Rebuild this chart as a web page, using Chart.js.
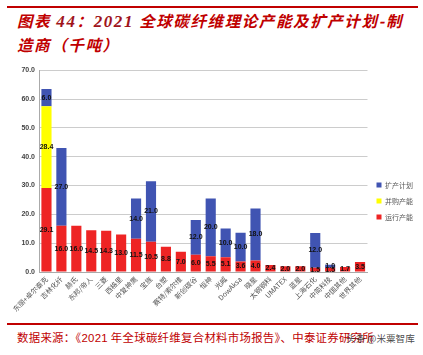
<!DOCTYPE html>
<html><head><meta charset="utf-8">
<script src="https://cdn.jsdelivr.net/npm/chart.js@4.4.0/dist/chart.umd.min.js"></script>
<style>
html,body{margin:0;padding:0;background:#fff;width:423px;height:355px;overflow:hidden;position:relative;font-family:"Noto Sans CJK SC",sans-serif;}
#topline{position:absolute;left:7px;top:6px;width:411px;height:2px;background:#c00000;}
#title{position:absolute;left:17px;top:9px;width:410px;font-size:15.5px;line-height:23px;font-weight:bold;font-style:italic;color:#c00000;letter-spacing:1.6px;white-space:nowrap;}
#title .n{font-family:"Liberation Serif",serif;color:#a0141c;font-size:17px;}
#botline{position:absolute;left:7px;top:323px;width:411px;height:2px;background:#c00000;}
#foot{position:absolute;left:17px;top:329px;font-size:11.4px;color:#c00000;white-space:nowrap;letter-spacing:0.3px;}
#foot .n{font-family:"Liberation Sans",sans-serif;}
#wm{position:absolute;left:346px;top:331px;font-size:9.6px;color:rgba(40,40,40,0.85);white-space:nowrap;}
#wrap{position:absolute;left:0;top:62px;width:423px;height:258px;}
</style></head><body>
<div id="topline"></div>
<div id="title">图表 <span class="n">44</span>：<span class="n">2021</span> 全球碳纤维理论产能及扩产计划-制<br>造商（千吨）</div>
<div id="wrap"><canvas id="c" width="423" height="258"></canvas></div>
<div id="botline"></div>
<div id="foot">数据来源：《<span class="n">2021</span> 年全球碳纤维复合材料市场报告》、中泰证券研究所</div>
<div id="wm">头条 @米粟智库</div>
<script>
const categories = ["东丽+卓尔泰克","吉林化纤","赫氏","东邦/帝人","三菱","西格里","中复神鹰","宝旌","台塑","赛特/索尔维","新创碳谷","恒神","光威","DowAksa","晓星","太钢钢科","UMATEX","蓝星","上海石化","中简科技","中国其他","世界其他"];
const running = [29.1,16.0,16.0,14.5,14.3,13.0,11.5,10.5,8.8,7.0,6.0,5.5,5.1,3.6,4.0,2.4,2.0,2.0,1.5,1.5,1.7,3.5];
const acquired = [28.4,0,0,0,0,0,0,0,0,0,0,0,0,0,0,0,0,0,0,0,0,0];
const expansion = [6.0,27.0,0,0,0,0,14.0,21.0,0,0,12.0,20.0,10.0,10.0,18.0,0,0,0,12.0,1.0,0,0];
const yTicks = [0,10,20,30,40,50,60,70];

const labelPlugin = {
  id:'segLabels',
  afterLayout(chart){
    if(chart.legend){ chart.legend.top += 6; chart.legend.bottom += 6; }
  },
  afterDatasetsDraw(chart){
    const ctx = chart.ctx;
    ctx.save();
    ctx.font = 'bold 7px "Liberation Sans", Arial, sans-serif';
    ctx.fillStyle = '#111';
    ctx.textAlign = 'center';
    ctx.textBaseline = 'middle';
    chart.data.datasets.forEach((ds,i)=>{
      const meta = chart.getDatasetMeta(i);
      meta.data.forEach((bar,j)=>{
        const v = ds.data[j];
        if(!v) return;
        const y = (bar.y + bar.base)/2;
        ctx.fillText(v.toFixed(1), bar.x, y);
      });
    });
    ctx.restore();
  }
};

new Chart(document.getElementById('c'),{
  type:'bar',
  data:{
    labels:categories,
    datasets:[
      {label:'运行产能',data:running,backgroundColor:'#ee2424',stack:'s'},
      {label:'并购产能',data:acquired,backgroundColor:'#ffff00',stack:'s'},
      {label:'扩产计划',data:expansion,backgroundColor:'#4054b2',stack:'s'}
    ]
  },
  options:{
    responsive:false,
    animation:false,
    events:[],
    datasets:{bar:{barPercentage:0.68,categoryPercentage:1.0}},
    layout:{padding:{top:8,right:0,left:0,bottom:0}},
    plugins:{
      legend:{
        position:'right',
        reverse:true,
        labels:{boxWidth:5,boxHeight:5,padding:9,color:'#555',font:{size:7,family:'"Noto Sans CJK SC", sans-serif'}}
      },
      tooltip:{enabled:false}
    },
    scales:{
      x:{
        stacked:true,
        grid:{display:false,drawTicks:false},
        border:{color:'#aaa'},
        ticks:{autoSkip:false,maxRotation:45,minRotation:45,color:'#555',padding:3,font:{size:7,family:'"Noto Sans CJK SC", sans-serif'}},
        afterFit(s){s.height=48;}
      },
      y:{
        stacked:true,
        min:0,max:70,
        afterBuildTicks(s){s.ticks = yTicks.map(v=>({value:v}));},
        grid:{color:'#cccccc',drawTicks:false},
        border:{color:'#aaa'},
        ticks:{color:'#444',padding:4,callback:v=>v.toFixed(1),font:{size:7,weight:'bold',family:'"Liberation Sans", Arial, sans-serif'}},
        afterFit(s){s.width=39;}
      }
    }
  },
  plugins:[labelPlugin]
});
</script>
</body></html>
